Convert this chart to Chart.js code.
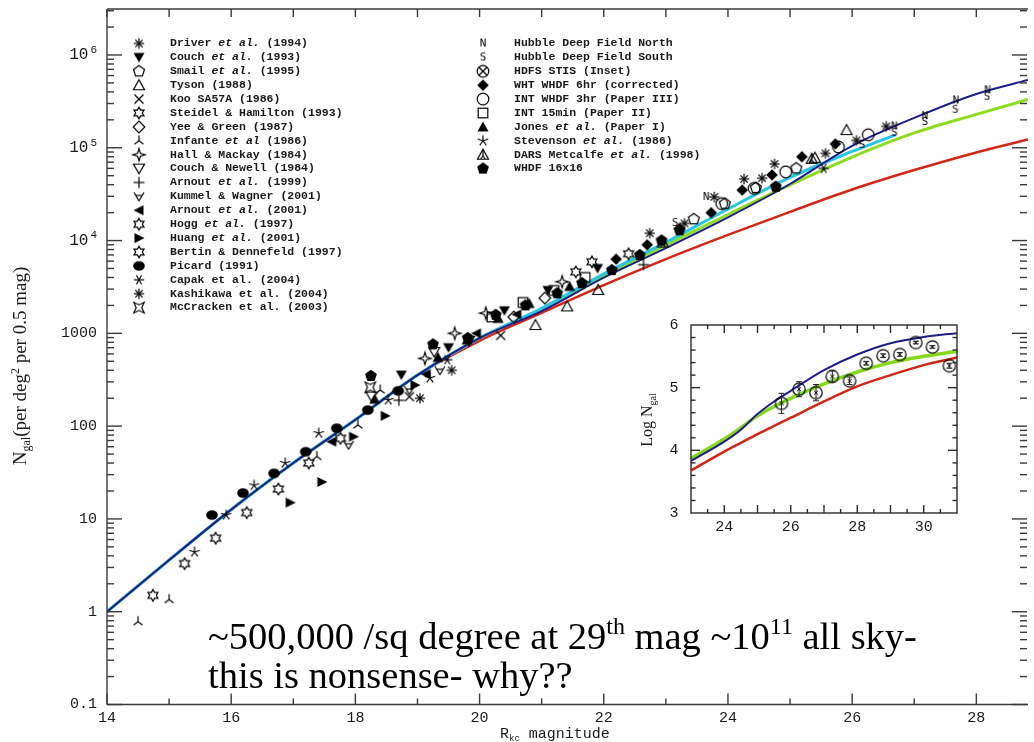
<!DOCTYPE html>
<html>
<head>
<meta charset="utf-8">
<title>Galaxy number counts</title>
<script src="https://cdn.jsdelivr.net/npm/chart.js@4.4.1/dist/chart.umd.min.js"></script>
<style>
  html, body { margin: 0; padding: 0; background: #fff; }
  #wrap { position: relative; width: 1034px; height: 742px; overflow: hidden; }
  #wrap canvas { position: absolute; left: 0; top: 0; }
</style>
</head>
<body>
<div id="wrap">
  <canvas id="main" width="1034" height="742"></canvas>
  <canvas id="inset" width="1034" height="742"></canvas>
</div>
<script>
// ---- model curves (N per deg^2 per 0.5 mag) ----
const modelMags  = [14, 15, 16, 17, 18, 19, 20, 21, 22, 23, 24, 25, 26, 27, 28, 28.83];
const blueModel  = [1, 3.6, 12.6, 40, 117, 355, 890, 1740, 3980, 8300, 17800, 40700, 105000, 210000, 380000, 537000];
const greenModel = [1, 3.6, 12.6, 40, 117, 355, 890, 1820, 4170, 8910, 19100, 39800, 79400, 144500, 229000, 331000];
const redModel   = [1, 3.6, 12.6, 40, 117, 355, 832, 1660, 3310, 6310, 11500, 20400, 35500, 57500, 89100, 123000];
const cyanMags   = [14, 15, 16, 17, 18, 19, 20, 21, 22, 23, 24, 25, 26, 26.7];
const cyanModel  = [1, 3.6, 12.6, 40, 117, 355, 890, 1860, 4370, 9550, 21900, 47900, 91200, 138000];

// ---- survey counts [mag, N] ----
const driverPts    = [[22.74, 12000], [23.3, 15300], [23.78, 29500], [24.26, 46000], [24.55, 47000], [24.75, 67000], [25.57, 87000], [26.07, 120000], [26.55, 170000]];
const couch93Pts   = [[18.74, 355], [19.5, 700], [20.4, 1750], [21.1, 2900], [21.9, 5000]];
const smailPts     = [[23.45, 17000], [23.95, 25000], [24.45, 37000], [25.1, 60000]];
const tysonPts     = [[20.9, 1230], [21.41, 1950], [21.91, 2940], [25.4, 78000], [25.91, 155000]];
const kooPts       = [[18.87, 208], [20.34, 950]];
const steidelPts   = [[21.55, 4600], [22.4, 7200]];
const yeePts       = [[20.55, 1500], [21.05, 2400]];
const infantePts   = [[14.5, 0.78], [15.0, 1.35], [17.38, 47], [18.04, 103], [18.4, 245]];
const hallPts      = [[19.12, 537], [19.6, 1000], [20.1, 1650], [21.33, 3600]];
const couchNewPts  = [[18.26, 208], [19.27, 630], [19.83, 830]];
const arnout99Pts  = [[18.7, 190], [22.64, 5500]];
const kummelPts    = [[17.89, 63], [18.87, 245], [19.36, 400]];
const arnout01Pts  = [[17.62, 68], [19.14, 363], [19.95, 1000], [20.6, 1600]];
const hoggPts      = [[16.76, 21], [17.25, 40], [17.76, 74], [21.81, 5900]];
const huangPts     = [[16.95, 15], [17.46, 25], [17.97, 77], [18.48, 129], [18.96, 277]];
const bertinPts    = [[14.74, 1.5], [15.25, 3.3], [15.75, 6.2], [16.25, 11.7]];
const picardPts    = [[15.69, 11], [16.19, 19], [16.69, 31], [17.2, 53], [17.7, 95], [18.2, 149], [18.69, 240]];
const capakPts     = [[19.48, 520], [25.54, 60000]];
const kashikawaPts = [[19.04, 200], [19.55, 400]];
const mccrackenPts = [[18.24, 262]];
const hdfNorthPts  = [[23.65, 29500], [26.68, 170000], [27.17, 219000], [27.67, 324000], [28.18, 417000]];
const hdfSouthPts  = [[23.15, 15500], [26.16, 107000], [26.68, 145000], [27.17, 190000], [27.66, 257000], [28.17, 355000]];
const whtPts       = [[22.2, 6300], [22.7, 9000], [23.22, 13500], [23.73, 20000], [24.23, 35000], [24.71, 51000], [25.19, 80000], [25.73, 110000]];
const int3hrPts    = [[23.9, 25000], [24.42, 36500], [24.93, 55000], [25.78, 102000], [26.26, 138000]];
const int15Pts     = [[20.2, 1500], [20.7, 2150], [21.2, 2900], [21.7, 4000]];
const jonesPts     = [[18.31, 195], [19.33, 550], [19.8, 850], [20.3, 1450], [20.8, 2100], [21.45, 3200]];
const stevensonPts = [[15.41, 4.4], [15.92, 11], [16.37, 23], [16.87, 40], [17.41, 84], [18.53, 191], [19.2, 330]];
const darsPts      = [[22.95, 9500], [25.35, 76000]];
const whdf16Pts    = [[18.25, 347], [19.25, 760], [19.81, 890], [20.26, 1580], [20.74, 2000], [21.25, 2700], [21.65, 3470], [22.13, 4800], [22.58, 6960], [22.93, 10000], [23.22, 12900], [24.77, 38000]];

// ---- inset: HDFS STIS counts (log N) and models ----
const stisMags = [25.72, 26.25, 26.76, 27.25, 27.77, 28.27, 28.78, 29.28, 29.76, 30.26, 30.77];
const stisLog  = [4.75, 4.975, 4.92, 5.18, 5.11, 5.39, 5.51, 5.53, 5.72, 5.65, 5.35];
const stisErr  = [0.16, 0.12, 0.13, 0.09, 0.06, 0.03, 0.03, 0.03, 0.02, 0.02, 0.04];
const insetMags  = [23, 24, 24.5, 25, 25.5, 26, 27, 28, 29, 30, 31];
const insetBlue  = [3.83, 4.14, 4.33, 4.58, 4.78, 4.95, 5.28, 5.53, 5.71, 5.81, 5.87];
const insetGreen = [3.87, 4.18, 4.36, 4.55, 4.70, 4.83, 5.06, 5.25, 5.40, 5.50, 5.58];
const insetRed   = [3.68, 3.98, 4.12, 4.26, 4.39, 4.52, 4.78, 5.02, 5.20, 5.36, 5.48];

// ---- axis labels ----
const xTickVals = [14, 16, 18, 20, 22, 24, 26, 28];
const xTickText = ['14', '16', '18', '20', '22', '24', '26', '28'];
const yTickVals = [0.1, 1, 10, 100, 1000, 1e4, 1e5, 1e6];
const yTickText = [['0.1', ''], ['1', ''], ['10', ''], ['100', ''], ['1000', ''], ['10', '4'], ['10', '5'], ['10', '6']];
const insetXVals = [24, 26, 28, 30];
const insetYVals = [3, 4, 5, 6];

// ---- key text ('|' toggles italic) ----
const keyLeftText = [
  'Driver |et al.| (1994)', 'Couch |et al.| (1993)', 'Smail |et al.| (1995)', 'Tyson (1988)',
  'Koo SA57A (1986)', 'Steidel & Hamilton (1993)', 'Yee & Green (1987)', 'Infante |et al| (1986)',
  'Hall & Mackay (1984)', 'Couch & Newell (1984)', 'Arnout |et al.| (1999)', 'Kummel & Wagner (2001)',
  'Arnout |et al.| (2001)', 'Hogg |et al.| (1997)', 'Huang |et al.| (2001)', 'Bertin & Dennefeld (1997)',
  'Picard (1991)', 'Capak et al. (2004)', 'Kashikawa et al. (2004)', 'McCracken et al. (2003)'
];
const keyLeftSym = ['ast8', 'triDownFill', 'pentOpen', 'triOpen', 'xcross', 'star6', 'diamondOpen', 'invY',
  'star4', 'triDownOpen', 'plus', 'kummel', 'triLeftFill', 'star6', 'triRightFill', 'star6',
  'ellipseFill', 'ast6', 'ast8', 'mccracken'];
const keyRightText = [
  'Hubble Deep Field North', 'Hubble Deep Field South', 'HDFS STIS (Inset)', 'WHT WHDF 6hr (corrected)',
  'INT WHDF 3hr (Paper III)', 'INT 15min (Paper II)', 'Jones |et al.| (Paper I)', 'Stevenson |et al.| (1986)',
  'DARS Metcalfe |et al.| (1998)', 'WHDF 16x16'
];
const keyRightSym = ['letterN', 'letterS', 'otimes', 'diamondFill', 'circleOpen', 'squareOpen', 'triUpFill', 'ast5', 'dars', 'pentFill'];

// ---- marker glyphs, drawn once into small canvases ----
function makeSym(kind, size = 18) {
  const cv = document.createElement('canvas');
  cv.width = size; cv.height = size;
  const g = cv.getContext('2d');
  g.translate(size / 2, size / 2);
  g.strokeStyle = '#000'; g.fillStyle = '#000';
  g.lineWidth = 1.2;
  const poly = (pts, fill) => {
    g.beginPath();
    pts.forEach(([px, py], i) => (i ? g.lineTo(px, py) : g.moveTo(px, py)));
    g.closePath();
    fill ? g.fill() : g.stroke();
  };
  const seg = (x1, y1, x2, y2) => { g.beginPath(); g.moveTo(x1, y1); g.lineTo(x2, y2); g.stroke(); };
  const rays = (angles, r) => angles.forEach(a => {
    const t = a * Math.PI / 180;
    seg(0, 0, r * Math.cos(t), r * Math.sin(t));
  });
  const ring = (n, r1, r2, start) => {
    const pts = [];
    for (let i = 0; i < 2 * n; i++) {
      const r = i % 2 ? r2 : r1;
      const t = (start + i * 180 / n) * Math.PI / 180;
      pts.push([r * Math.cos(t), r * Math.sin(t)]);
    }
    return pts;
  };
  const ngon = (n, r, start) => {
    const pts = [];
    for (let i = 0; i < n; i++) {
      const t = (start + i * 360 / n) * Math.PI / 180;
      pts.push([r * Math.cos(t), r * Math.sin(t)]);
    }
    return pts;
  };
  switch (kind) {
    case 'ast8': rays([0, 45, 90, 135, 180, 225, 270, 315], 5.2); break;
    case 'ast6': rays([0, 60, 120, 180, 240, 300], 5.2); break;
    case 'ast5': rays([-90, -18, 54, 126, 198], 5.5); break;
    case 'triDownFill': poly([[-5.5, -4.5], [5.5, -4.5], [0, 5]], true); break;
    case 'triDownOpen': poly([[-5.5, -4.5], [5.5, -4.5], [0, 5]], false); break;
    case 'triOpen': poly([[0, -5.5], [5.5, 4.5], [-5.5, 4.5]], false); break;
    case 'triUpFill': poly([[0, -5.5], [5.5, 4.5], [-5.5, 4.5]], true); break;
    case 'triLeftFill': poly([[-5.5, 0], [4.5, -5], [4.5, 5]], true); break;
    case 'triRightFill': poly([[5.5, 0], [-4.5, -5], [-4.5, 5]], true); break;
    case 'pentOpen': poly(ngon(5, 5.8, -90), false); break;
    case 'pentFill': poly(ngon(5, 6.2, -90), true); break;
    case 'xcross': seg(-4.5, -4.5, 4.5, 4.5); seg(-4.5, 4.5, 4.5, -4.5); break;
    case 'plus': seg(-5.5, 0, 5.5, 0); seg(0, -5.5, 0, 5.5); break;
    case 'star6': poly(ring(6, 5.8, 3.3, -90), false); break;
    case 'star4': poly(ring(4, 6.2, 2, -90), false); break;
    case 'diamondOpen': poly([[0, -5.8], [5.8, 0], [0, 5.8], [-5.8, 0]], false); break;
    case 'diamondFill': poly([[0, -5.8], [5.8, 0], [0, 5.8], [-5.8, 0]], true); break;
    case 'invY': rays([-90, 35, 145], 5.5); break;
    case 'kummel': seg(-5, -4, 0, 4.5); seg(0, 4.5, 5, -4); seg(-3, -1, 3, -1); break;
    case 'ellipseFill': g.beginPath(); g.ellipse(0, 0, 5.8, 4.8, 0, 0, Math.PI * 2); g.fill(); break;
    case 'circleOpen': g.beginPath(); g.arc(0, 0, 5.8, 0, Math.PI * 2); g.stroke(); break;
    case 'squareOpen': g.strokeRect(-4.8, -4.8, 9.6, 9.6); break;
    case 'otimes':
      g.beginPath(); g.arc(0, 0, 5.8, 0, Math.PI * 2); g.stroke();
      seg(-4, -4, 4, 4); seg(-4, 4, 4, -4); break;
    case 'mccracken':
      poly([[-5.2, -5.2], [0, -2.8], [5.2, -5.2], [2.8, 0], [5.2, 5.2], [0, 2.8], [-5.2, 5.2], [-2.8, 0]], false); break;
    case 'dars':
      poly([[0, -5.5], [5.5, 4.5], [-5.5, 4.5]], false); seg(0, -5.5, 0, 1); seg(0, 1, -2.5, 4.5); seg(0, 1, 2.5, 4.5); break;
    case 'letterN':
    case 'letterS':
      g.font = '11px "DejaVu Sans Mono", monospace';
      g.textAlign = 'center'; g.textBaseline = 'middle';
      g.fillText(kind === 'letterN' ? 'N' : 'S', 0, 0.5); break;
    case 'stisMark':
      g.lineWidth = 1.2;
      g.beginPath(); g.arc(0, 0, 6.2, 0, Math.PI * 2); g.stroke();
      g.lineWidth = 1;
      seg(-2, -2, 2, 2); seg(-2, 2, 2, -2); break;
  }
  return cv;
}

const symCache = {};
const sym = k => (symCache[k] = symCache[k] || makeSym(k));

const pairsToXY = pts => pts.map(([m, n]) => ({ x: m, y: n }));
const markDataset = (pts, kind) => ({
  type: 'scatter',
  data: pairsToXY(pts),
  pointStyle: sym(kind),
  pointRadius: 5,
  pointHoverRadius: 5,
  showLine: false
});
const lineDataset = (mags, vals, color, width) => ({
  type: 'line',
  data: mags.map((m, i) => ({ x: m, y: vals[i] })),
  borderColor: color,
  borderWidth: width,
  pointRadius: 0,
  fill: false,
  cubicInterpolationMode: 'monotone'
});

const markSets = [
  markDataset(driverPts, 'ast8'), markDataset(couch93Pts, 'triDownFill'),
  markDataset(smailPts, 'pentOpen'), markDataset(tysonPts, 'triOpen'),
  markDataset(kooPts, 'xcross'), markDataset(steidelPts, 'star6'),
  markDataset(yeePts, 'diamondOpen'), markDataset(infantePts, 'invY'),
  markDataset(hallPts, 'star4'), markDataset(couchNewPts, 'triDownOpen'),
  markDataset(arnout99Pts, 'plus'), markDataset(kummelPts, 'kummel'),
  markDataset(arnout01Pts, 'triLeftFill'), markDataset(hoggPts, 'star6'),
  markDataset(huangPts, 'triRightFill'), markDataset(bertinPts, 'star6'),
  markDataset(picardPts, 'ellipseFill'), markDataset(capakPts, 'ast6'),
  markDataset(kashikawaPts, 'ast8'), markDataset(mccrackenPts, 'mccracken'),
  markDataset(hdfNorthPts, 'letterN'), markDataset(hdfSouthPts, 'letterS'),
  markDataset(whtPts, 'diamondFill'), markDataset(int3hrPts, 'circleOpen'),
  markDataset(int15Pts, 'squareOpen'), markDataset(jonesPts, 'triUpFill'),
  markDataset(stevensonPts, 'ast5'), markDataset(darsPts, 'dars'),
  markDataset(whdf16Pts, 'pentFill')
];

// first dataset is painted last, so the navy model sits above the others
const modelSets = [
  lineDataset(modelMags, blueModel, '#1d1d8c', 2),
  lineDataset(cyanMags, cyanModel, '#27c6e6', 3),
  lineDataset(modelMags, greenModel, '#8fdc1e', 3),
  lineDataset(modelMags, redModel, '#d42617', 2.5)
];

const MONO = '"Liberation Mono", "DejaVu Sans Mono", monospace';
const SERIF = '"Liberation Serif", "DejaVu Serif", serif';

// draws a run of [text, mode] pieces; mode 0 normal, 1 superscript, -1 subscript, 2 italic
function drawRun(ctx, pieces, x0, y0, size, family, weight = '') {
  let xx = x0;
  pieces.forEach(([txt, mode]) => {
    let f = size + 'px ' + family, dy = 0;
    if (mode === 1) { f = Math.round(size * 0.62) + 'px ' + family; dy = -size * 0.38; }
    if (mode === -1) { f = Math.round(size * 0.62) + 'px ' + family; dy = size * 0.22; }
    if (mode === 2) f = 'italic ' + f;
    ctx.font = weight + ' ' + f;
    ctx.fillText(txt, xx, y0 + dy);
    xx += ctx.measureText(txt).width;
  });
  return xx - x0;
}
function runWidth(ctx, pieces, size, family) {
  let w = 0;
  pieces.forEach(([txt, mode]) => {
    let f = (mode === 1 || mode === -1 ? Math.round(size * 0.62) : size) + 'px ' + family;
    if (mode === 2) f = 'italic ' + f;
    ctx.font = f;
    w += ctx.measureText(txt).width;
  });
  return w;
}

const mainDecor = {
  id: 'mainDecor',
  afterDraw(chart) {
    const { ctx, chartArea: a, scales: { x, y } } = chart;
    ctx.save();
    ctx.strokeStyle = '#3a3a3a';
    ctx.lineWidth = 1.4;
    const seg = (x1, y1, x2, y2) => { ctx.beginPath(); ctx.moveTo(x1, y1); ctx.lineTo(x2, y2); ctx.stroke(); };

    seg(a.left, a.top, a.right, a.top);
    seg(a.left, a.top, a.left, a.bottom);
    seg(a.left, a.bottom, a.right, a.bottom);

    for (let m = 14; m <= x.max; m++) {
      const px = x.getPixelForValue(m);
      seg(px, a.bottom, px, a.bottom - (m % 2 === 0 ? 11 : 6));
      seg(px, a.top, px, a.top + 8);
    }
    for (let e = -1; e <= 6; e++) {
      for (let k = 1; k <= 9; k++) {
        const v = k * Math.pow(10, e);
        if (v > y.max) break;
        const py = y.getPixelForValue(v);
        const len = k === 1 ? 15 : 7;
        seg(a.left, py, a.left + len, py);
        seg(a.right - 1, py, a.right - 1 - len, py);
      }
    }

    // tick labels
    ctx.fillStyle = '#1a1a1a';
    ctx.textBaseline = 'middle';
    ctx.textAlign = 'center';
    ctx.font = '15px ' + MONO;
    xTickVals.forEach((m, i) => ctx.fillText(xTickText[i], x.getPixelForValue(m), 718));
    ctx.textAlign = 'right';
    yTickVals.forEach((v, i) => {
      const py = y.getPixelForValue(v);
      const [base, sup] = yTickText[i];
      if (sup) {
        ctx.font = '11px ' + MONO;
        ctx.fillText(sup, 97, py - 5);
        const w = ctx.measureText(sup).width;
        ctx.font = '16px ' + MONO;
        ctx.fillText(base, 97 - w - 2, py);
      } else {
        ctx.font = '15px ' + MONO;
        ctx.fillText(base, 97, py);
      }
    });

    // axis titles
    ctx.textAlign = 'left';
    ctx.textBaseline = 'alphabetic';
    drawRun(ctx, [['R', 0], ['kc', -1], [' magnitude', 0]], 500, 738, 15, MONO);

    const yTitle = [['N', 0], ['gal', -1], ['(per deg', 0], ['2', 1], [' per 0.5 mag)', 0]];
    ctx.save();
    ctx.translate(26, 366);
    ctx.rotate(-Math.PI / 2);
    const tw = runWidth(ctx, yTitle, 19, SERIF);
    drawRun(ctx, yTitle, -tw / 2, 0, 19, SERIF);
    ctx.restore();

    // key, two columns
    ctx.textBaseline = 'middle';
    const keyCol = (texts, syms, sx, tx) => texts.forEach((t, i) => {
      const ky = 43.5 + i * 13.9;
      const s = sym(syms[i]);
      ctx.drawImage(s, sx - s.width / 2, ky - s.height / 2);
      ctx.fillStyle = '#1a1a1a';
      const pieces = t.split('|').map((p, j) => [p, j % 2 ? 2 : 0]);
      drawRun(ctx, pieces, tx, ky, 11.5, MONO, 'bold');
    });
    keyCol(keyLeftText, keyLeftSym, 139, 170);
    keyCol(keyRightText, keyRightSym, 483, 514);

    // annotation
    ctx.fillStyle = '#000';
    ctx.textBaseline = 'alphabetic';
    drawRun(ctx, [['~500,000 /sq degree at 29', 0], ['th', 1], [' mag ~10', 0], ['11', 1], [' all sky-', 0]], 208, 649, 38.5, SERIF);
    drawRun(ctx, [['this is nonsense- why??', 0]], 208, 688, 38.5, SERIF);
    ctx.restore();
  }
};

new Chart(document.getElementById('main'), {
  type: 'scatter',
  data: { datasets: [...markSets, ...modelSets] },
  options: {
    responsive: false,
    animation: false,
    devicePixelRatio: 1,
    events: [],
    layout: { padding: { left: 107, top: 9, right: 0, bottom: 37.5 } },
    plugins: { legend: { display: false }, tooltip: { enabled: false } },
    scales: {
      x: { type: 'linear', min: 14, max: 28.832, display: false },
      y: { type: 'logarithmic', min: 0.1, max: 3.13e6, display: false }
    }
  },
  plugins: [mainDecor]
});

// ---- inset panel ----
const insetDecor = {
  id: 'insetDecor',
  beforeDatasetsDraw(chart) {
    const { ctx, chartArea: a } = chart;
    ctx.save();
    ctx.fillStyle = '#fff';
    ctx.fillRect(a.left, a.top, a.right - a.left, a.bottom - a.top);
    ctx.restore();
  },
  afterDatasetsDraw(chart) {
    const { ctx, chartArea: a, scales: { x, y } } = chart;
    ctx.save();
    const seg = (x1, y1, x2, y2) => { ctx.beginPath(); ctx.moveTo(x1, y1); ctx.lineTo(x2, y2); ctx.stroke(); };

    // error bars on the STIS counts
    ctx.strokeStyle = '#222';
    ctx.lineWidth = 1;
    stisMags.forEach((m, i) => {
      const px = x.getPixelForValue(m);
      const lo = y.getPixelForValue(stisLog[i] - stisErr[i]);
      const hi = y.getPixelForValue(stisLog[i] + stisErr[i]);
      seg(px, lo, px, hi);
      seg(px - 3, lo, px + 3, lo);
      seg(px - 3, hi, px + 3, hi);
    });

    ctx.strokeStyle = '#2a2a2a';
    ctx.lineWidth = 1.4;
    ctx.strokeRect(a.left, a.top, a.right - a.left, a.bottom - a.top);
    for (let m = 23.5; m < 31; m += 0.5) {
      const px = x.getPixelForValue(m);
      const len = Number.isInteger(m) ? 8 : 4;
      seg(px, a.bottom, px, a.bottom - len);
      seg(px, a.top, px, a.top + len);
    }
    for (let v = 3.2; v < 6; v += 0.2) {
      const py = y.getPixelForValue(v);
      const len = Math.abs(v - Math.round(v)) < 0.01 ? 9 : 4.5;
      seg(a.left, py, a.left + len, py);
      seg(a.right, py, a.right - len, py);
    }

    ctx.fillStyle = '#1a1a1a';
    ctx.font = '15px ' + MONO;
    ctx.textBaseline = 'middle';
    ctx.textAlign = 'center';
    insetXVals.forEach(m => ctx.fillText(String(m), x.getPixelForValue(m), 527));
    ctx.textAlign = 'center';
    insetYVals.forEach(v => ctx.fillText(String(v), 674, y.getPixelForValue(v)));

    ctx.save();
    ctx.translate(652, 420);
    ctx.rotate(-Math.PI / 2);
    ctx.textAlign = 'left';
    ctx.textBaseline = 'alphabetic';
    const lbl = [['Log N', 0], ['gal', -1]];
    const w = runWidth(ctx, lbl, 16, SERIF);
    drawRun(ctx, lbl, -w / 2, 0, 16, SERIF);
    ctx.restore();
    ctx.restore();
  }
};

new Chart(document.getElementById('inset'), {
  type: 'scatter',
  data: {
    datasets: [
      {
        type: 'scatter',
        data: stisMags.map((m, i) => ({ x: m, y: stisLog[i] })),
        pointStyle: sym('stisMark'),
        pointRadius: 6,
        showLine: false
      },
      lineDataset(insetMags, insetBlue, '#1d1d8c', 2),
      lineDataset(insetMags, insetGreen, '#86d81c', 3.5),
      lineDataset(insetMags, insetRed, '#d42617', 2.5)
    ]
  },
  options: {
    responsive: false,
    animation: false,
    devicePixelRatio: 1,
    events: [],
    layout: { padding: { left: 691, top: 325, right: 77, bottom: 229 } },
    plugins: { legend: { display: false }, tooltip: { enabled: false } },
    scales: {
      x: { type: 'linear', min: 23, max: 31, display: false },
      y: { type: 'linear', min: 3, max: 6, display: false }
    }
  },
  plugins: [insetDecor]
});
</script>
</body>
</html>
